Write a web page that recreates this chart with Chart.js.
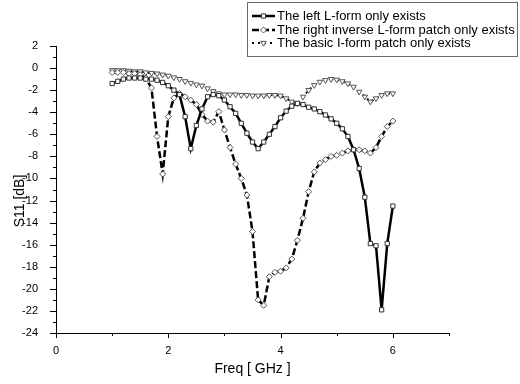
<!DOCTYPE html>
<html>
<head>
<meta charset="utf-8">
<script src="https://cdn.jsdelivr.net/npm/chart.js@4/dist/chart.umd.min.js"></script>
<style>
  html, body { margin: 0; padding: 0; background: #fff; }
  #wrap { width: 520px; height: 384px; position: relative; }
</style>
</head>
<body>
<div id="wrap"><canvas id="chart" width="520" height="384"></canvas></div>
<script>
// frequency points (GHz)
const freq = [
  1.0, 1.1, 1.2, 1.3, 1.4, 1.5, 1.6, 1.7, 1.8, 1.9,
  2.0, 2.1, 2.2, 2.3, 2.4, 2.5, 2.6, 2.7, 2.8, 2.9,
  3.0, 3.1, 3.2, 3.3, 3.4, 3.5, 3.6, 3.7, 3.8, 3.9,
  4.0, 4.1, 4.2, 4.3, 4.4, 4.5, 4.6, 4.7, 4.8, 4.9,
  5.0, 5.1, 5.2, 5.3, 5.4, 5.5, 5.6, 5.7, 5.8, 5.9, 6.0
];
// S11 [dB]
const leftLForm = [
  -1.4, -1.2, -1.0, -0.9, -0.9, -0.9, -1.0, -1.0, -1.1, -1.3,
  -1.6, -2.0, -2.4, -4.4, -7.3, -5.2, -3.7, -2.6, -2.4, -2.5,
  -2.9, -3.5, -4.1, -5.0, -5.9, -6.7, -7.3, -6.7, -6.0, -5.3,
  -4.5, -3.9, -3.45, -3.2, -3.3, -3.55, -3.7, -3.95, -4.25, -4.6,
  -5.0, -5.5, -6.2, -7.4, -9.1, -11.7, -15.9, -16.1, -21.9, -15.9, -12.5
];
const rightInvLForm = [
  -0.4, -0.4, -0.4, -0.5, -0.5, -0.6, -0.9, -1.8, -6.2, -9.6,
  -4.4, -2.7, -2.3, -2.6, -2.9, -3.3, -4.2, -4.8, -4.9, -3.95,
  -5.6, -7.2, -8.7, -10.0, -11.5, -14.8, -21.0, -21.5, -18.9, -18.5,
  -18.4, -18.1, -17.3, -15.6, -13.6, -11.2, -9.4, -8.6, -8.3, -8.0,
  -7.9, -7.7, -7.5, -7.4, -7.4, -7.5, -7.7, -7.2, -6.2, -5.3, -4.8
];
const basicIForm = [
  -0.2, -0.2, -0.2, -0.25, -0.3, -0.3, -0.4, -0.45, -0.5, -0.6,
  -0.7, -0.85, -1.0, -1.2, -1.35, -1.5, -1.6, -1.85, -2.1, -2.3,
  -2.4, -2.4, -2.4, -2.45, -2.45, -2.5, -2.5, -2.5, -2.45, -2.45,
  -2.5, -2.75, -3.05, -3.2, -2.6, -2.0, -1.55, -1.25, -1.1, -1.0,
  -1.05, -1.2, -1.4, -1.7, -2.15, -2.6, -3.05, -2.75, -2.45, -2.3, -2.3
];
const seriesNames = [
  "The left L-form only exists",
  "The right inverse L-form patch only exists",
  "The basic I-form patch only exists"
];
const xTitle = "Freq [ GHz ]";
const yTitle = "S11 [dB]";

const FONT = "'Liberation Sans', Arial, sans-serif";

function pts(vals) {
  return freq.map((f, i) => ({ x: f, y: vals[i] }));
}

// ticks drawn by hand so the axes get short minor ticks
const axisTicks = {
  id: "axisTicks",
  afterDraw(chart) {
    const { ctx, scales: { x, y } } = chart;
    ctx.save();
    ctx.strokeStyle = "#000";
    ctx.lineWidth = 1;
    ctx.beginPath();
    for (let v = -24; v <= 2; v++) {
      const py = Math.round(y.getPixelForValue(v)) + 0.5;
      const len = v % 2 === 0 ? 6 : 3;
      ctx.moveTo(x.left, py);
      ctx.lineTo(x.left - len, py);
    }
    for (let v = 0; v <= 7; v++) {
      const px = Math.round(x.getPixelForValue(v)) + 0.5;
      const len = v % 2 === 0 ? 5 : 3;
      ctx.moveTo(px, y.bottom);
      ctx.lineTo(px, y.bottom + len);
    }
    ctx.stroke();
    // y axis title
    ctx.fillStyle = "#000";
    ctx.font = "14px " + FONT;
    ctx.textAlign = "center";
    ctx.textBaseline = "middle";
    ctx.translate(20, 201);
    ctx.rotate(-Math.PI / 2);
    ctx.fillText(yTitle, 0, 0);
    ctx.restore();
  }
};

// boxed legend in the top right corner
const boxLegend = {
  id: "boxLegend",
  afterDraw(chart) {
    const { ctx } = chart;
    ctx.save();
    ctx.strokeStyle = "#666";
    ctx.lineWidth = 1;
    ctx.strokeRect(247.5, 2.5, 270, 54);
    const rows = [16, 30, 43];
    chart.data.datasets.forEach((ds, i) => {
      const ry = rows[i];
      ctx.strokeStyle = "#000";
      ctx.lineWidth = ds.borderWidth;
      ctx.setLineDash(ds.borderDash || []);
      ctx.beginPath();
      ctx.moveTo(252, ry);
      ctx.lineTo(275, ry);
      ctx.stroke();
      ctx.setLineDash([]);
      ctx.lineWidth = 1;
      ctx.strokeStyle = ds.pointBorderColor;
      ctx.fillStyle = "#fff";
      Chart.helpers.drawPoint(ctx, {
        pointStyle: ds.pointStyle,
        rotation: ds.pointRotation || 0,
        radius: ds.pointRadius,
        borderWidth: 1
      }, 263.5, ry);
      ctx.fillStyle = "#000";
      ctx.font = "13px " + FONT;
      ctx.textAlign = "left";
      ctx.textBaseline = "middle";
      ctx.fillText(ds.label, 277, ry + 0.5);
    });
    ctx.restore();
  }
};

const config = {
  type: "line",
  data: {
    datasets: [
      {
        label: seriesNames[0],
        data: pts(leftLForm),
        borderColor: "#000",
        borderWidth: 2.5,
        pointStyle: "rect",
        pointRadius: 3,
        pointBackgroundColor: "#fff",
        pointBorderColor: "#333",
        pointBorderWidth: 1
      },
      {
        label: seriesNames[1],
        data: pts(rightInvLForm),
        borderColor: "#000",
        borderWidth: 2.5,
        borderDash: [7, 3],
        pointStyle: "rectRot",
        pointRadius: 3,
        pointBackgroundColor: "#fff",
        pointBorderColor: "#555",
        pointBorderWidth: 1
      },
      {
        label: seriesNames[2],
        data: pts(basicIForm),
        borderColor: "#000",
        borderWidth: 2,
        borderDash: [2, 4],
        pointStyle: "triangle",
        pointRotation: 180,
        pointRadius: 3.2,
        pointBackgroundColor: "#fff",
        pointBorderColor: "#555",
        pointBorderWidth: 1
      }
    ]
  },
  options: {
    responsive: false,
    animation: false,
    layout: { padding: { left: 0, right: 71, top: 46, bottom: 6 } },
    plugins: { legend: { display: false }, tooltip: { enabled: false } },
    scales: {
      x: {
        type: "linear",
        min: 0,
        max: 7,
        grid: { display: false },
        border: { display: true, color: "#000", width: 1 },
        ticks: {
          stepSize: 2,
          padding: 3,
          color: "#000",
          font: { family: FONT, size: 11 },
          callback: (v) => (v % 2 === 0 ? v : "")
        },
        title: {
          display: true,
          text: xTitle,
          color: "#000",
          font: { family: FONT, size: 14 },
          padding: { top: 4, bottom: 0 }
        },
        afterFit: (s) => { s.height = 45; }
      },
      y: {
        min: -24,
        max: 2,
        grid: { display: false },
        border: { display: true, color: "#000", width: 1 },
        ticks: {
          stepSize: 2,
          padding: 10,
          color: "#000",
          font: { family: FONT, size: 11 }
        },
        afterFit: (s) => { s.width = 56; }
      }
    }
  },
  plugins: [axisTicks, boxLegend]
};

new Chart(document.getElementById("chart"), config);
</script>
</body>
</html>
